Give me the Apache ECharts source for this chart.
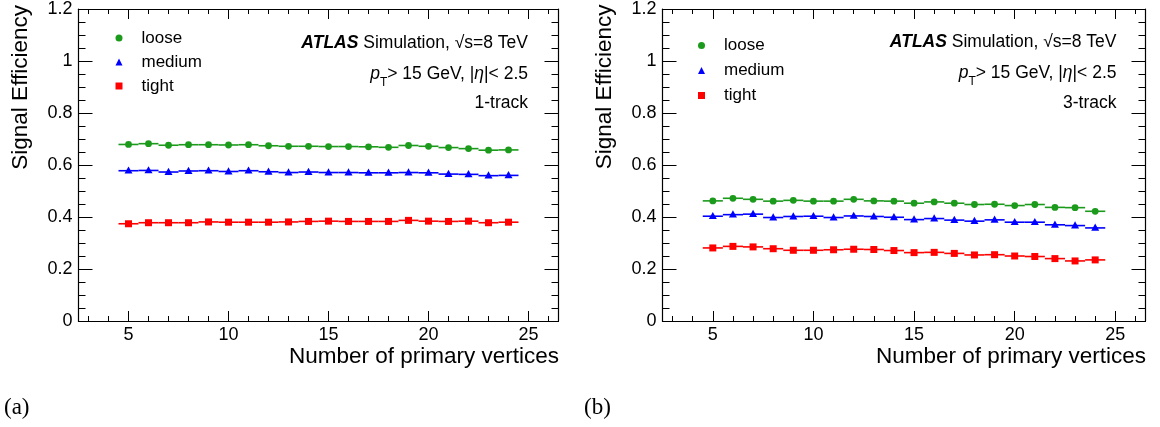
<!DOCTYPE html>
<html>
<head>
<meta charset="utf-8">
<script src="https://cdn.jsdelivr.net/npm/echarts@6/dist/echarts.min.js"></script>
<style>
  html, body { margin: 0; padding: 0; background: #ffffff; }
  #chart { width: 1160px; height: 427px; }
</style>
</head>
<body>
<div id="chart"></div>
<script>
// Number of primary vertices (bin centres)
const nVertices = [5, 6, 7, 8, 9, 10, 11, 12, 13, 14, 15, 16, 17, 18, 19, 20, 21, 22, 23, 24];

// (a) 1-track signal efficiency
const loose1  = [0.679, 0.682, 0.676, 0.678, 0.678, 0.677, 0.678, 0.674, 0.672, 0.672, 0.671, 0.671, 0.670, 0.668, 0.675, 0.672, 0.667, 0.663, 0.657, 0.658];
const medium1 = [0.578, 0.579, 0.573, 0.577, 0.578, 0.575, 0.578, 0.574, 0.571, 0.573, 0.571, 0.571, 0.570, 0.570, 0.571, 0.570, 0.565, 0.564, 0.559, 0.560];
const tight1  = [0.374, 0.378, 0.378, 0.378, 0.381, 0.380, 0.380, 0.380, 0.381, 0.383, 0.384, 0.383, 0.383, 0.383, 0.387, 0.384, 0.383, 0.384, 0.378, 0.380];

// (b) 3-track signal efficiency
const loose3  = [0.462, 0.472, 0.468, 0.461, 0.464, 0.461, 0.461, 0.468, 0.462, 0.461, 0.453, 0.458, 0.453, 0.448, 0.449, 0.444, 0.448, 0.437, 0.436, 0.422];
const medium3 = [0.403, 0.409, 0.411, 0.398, 0.402, 0.403, 0.398, 0.404, 0.402, 0.399, 0.390, 0.394, 0.388, 0.384, 0.389, 0.380, 0.380, 0.370, 0.367, 0.358];
const tight3  = [0.281, 0.287, 0.285, 0.278, 0.272, 0.272, 0.274, 0.276, 0.275, 0.271, 0.263, 0.264, 0.260, 0.254, 0.255, 0.250, 0.248, 0.240, 0.231, 0.235];

// Axis ticks
const xMajorTicks = [5, 10, 15, 20, 25];
const xMinorTicks = [3, 4, 5, 6, 7, 8, 9, 10, 11, 12, 13, 14, 15, 16, 17, 18, 19, 20, 21, 22, 23, 24, 25, 26];

const FONT = '"Liberation Sans", Arial, Helvetica, sans-serif';
const SERIF = '"Liberation Serif", "DejaVu Serif", serif';
const GREEN = '#1c9a1c';
const BLUE = '#0000ff';
const RED = '#ff0000';
const HALF_BIN = 0.5;

const chart = echarts.init(document.getElementById('chart'), null, { renderer: 'canvas' });

// Marker + horizontal bin-width bar for one point
function binRenderer(shape, color) {
  return function (params, api) {
    const x = api.value(0);
    const y = api.value(1);
    const a = api.coord([x - HALF_BIN, y]);
    const b = api.coord([x + HALF_BIN, y]);
    const c = api.coord([x, y]);
    let marker;
    if (shape === 'circle') {
      marker = { type: 'circle', shape: { cx: c[0], cy: c[1], r: 3.4 }, style: { fill: color } };
    } else if (shape === 'triangle') {
      marker = { type: 'polygon', shape: { points: [[c[0], c[1] - 4.3], [c[0] - 4, c[1] + 2.9], [c[0] + 4, c[1] + 2.9]] }, style: { fill: color } };
    } else {
      marker = { type: 'rect', shape: { x: c[0] - 3.5, y: c[1] - 3.5, width: 7, height: 7 }, style: { fill: color } };
    }
    return {
      type: 'group',
      children: [
        { type: 'line', shape: { x1: a[0], y1: a[1], x2: b[0], y2: b[1] }, style: { stroke: color, lineWidth: 1.6 } },
        marker
      ]
    };
  };
}

const panels = [
  { grid: { left: 78.5, top: 6, width: 480, height: 315 },
    data: [loose1, medium1, tight1], tag: '1-track',
    textRight: 528, atlasY: 43, ptY: 74, tagY: 103,
    legendLeft: 115.5, legendTop: 29.5, legendGap: 7,
    panelLabel: '(a)', panelLabelX: 4 },
  { grid: { left: 662.5, top: 5.5, width: 483, height: 315.5 },
    data: [loose3, medium3, tight3], tag: '3-track',
    textRight: 1116.5, atlasY: 42, ptY: 73, tagY: 103,
    legendLeft: 698, legendTop: 37, legendGap: 8,
    panelLabel: '(b)', panelLabelX: 584 }
];

const names = ['loose', 'medium', 'tight'];
const shapes = ['circle', 'triangle', 'rect'];
const colors = [GREEN, BLUE, RED];

const grids = [], xAxes = [], yAxes = [], series = [], legends = [], graphics = [];

panels.forEach((p, gi) => {
  grids.push(p.grid);

  const xBase = {
    gridIndex: gi, type: 'value', min: 2.5, max: 26.5,
    splitLine: { show: false },
    axisLine: { show: true, onZero: false, lineStyle: { color: '#000', width: 1.2 } }
  };
  // bottom: major ticks with labels
  xAxes.push(Object.assign({}, xBase, {
    position: 'bottom',
    axisTick: { show: true, inside: true, length: 10, customValues: xMajorTicks, lineStyle: { color: '#000', width: 1 } },
    axisLabel: { show: true, customValues: xMajorTicks, margin: 5, color: '#000', fontFamily: FONT, fontSize: 18 }
  }));
  // bottom: minor ticks
  xAxes.push(Object.assign({}, xBase, {
    position: 'bottom',
    axisTick: { show: true, inside: true, length: 5, customValues: xMinorTicks, lineStyle: { color: '#000', width: 1 } },
    axisLabel: { show: false }
  }));
  // top: major ticks
  xAxes.push(Object.assign({}, xBase, {
    position: 'top',
    axisTick: { show: true, inside: true, length: 10, customValues: xMajorTicks, lineStyle: { color: '#000', width: 1 } },
    axisLabel: { show: false }
  }));
  // top: minor ticks
  xAxes.push(Object.assign({}, xBase, {
    position: 'top',
    axisTick: { show: true, inside: true, length: 5, customValues: xMinorTicks, lineStyle: { color: '#000', width: 1 } },
    axisLabel: { show: false }
  }));

  const yBase = {
    gridIndex: gi, type: 'value', min: 0, max: 1.2, interval: 0.2,
    splitLine: { show: false },
    axisLine: { show: true, onZero: false, lineStyle: { color: '#000', width: 1.2 } },
    axisTick: { show: true, inside: true, length: 14, lineStyle: { color: '#000', width: 1 } },
    minorTick: { show: true, splitNumber: 4, length: 7, lineStyle: { color: '#000', width: 1 } }
  };
  yAxes.push(Object.assign({}, yBase, {
    position: 'left',
    axisLabel: { show: true, margin: 6, color: '#000', fontFamily: FONT, fontSize: 18 }
  }));
  yAxes.push(Object.assign({}, yBase, {
    position: 'right',
    axisLabel: { show: false }
  }));

  p.data.forEach((vals, si) => {
    series.push({
      type: 'custom',
      name: names[si],
      xAxisIndex: gi * 4,
      yAxisIndex: gi * 2,
      itemStyle: { color: colors[si] },
      renderItem: binRenderer(shapes[si], colors[si]),
      data: nVertices.map((n, i) => [n, vals[i]]),
      clip: false,
      silent: true
    });
  });

  legends.push({
    orient: 'vertical', left: p.legendLeft, top: p.legendTop, padding: 0,
    itemWidth: 7, itemHeight: 7, itemGap: p.legendGap,
    selectedMode: false,
    textStyle: { color: '#000', fontFamily: FONT, fontSize: 17, padding: [0, 0, 0, 14] },
    data: names.map((n, i) => ({ name: n, icon: shapes[i] }))
  });

  const g = p.grid;
  // y-axis title
  graphics.push({
    type: 'text', x: g.left - 58, y: g.top - 1, rotation: Math.PI / 2,
    style: { text: 'Signal Efficiency', fontFamily: FONT, fontSize: 22.5, fill: '#000', align: 'right', verticalAlign: 'middle' }
  });
  // x-axis title
  graphics.push({
    type: 'text', x: g.left + g.width + 0.5, y: 357,
    style: { text: 'Number of primary vertices', fontFamily: FONT, fontSize: 22.5, fill: '#000', align: 'right', verticalAlign: 'middle' }
  });
  // ATLAS label
  graphics.push({
    type: 'text', x: p.textRight, y: p.atlasY,
    style: {
      text: '{b|ATLAS} Simulation, √s=8 TeV',
      fontFamily: FONT, fontSize: 17.5, fill: '#000', align: 'right', verticalAlign: 'middle',
      rich: { b: { fontFamily: FONT, fontSize: 17.5, fontWeight: 'bold', fontStyle: 'italic', fill: '#000' } }
    }
  });
  // kinematic selection
  graphics.push({
    type: 'text', x: p.textRight, y: p.ptY,
    style: {
      text: '{i|p}{sub|T}> 15 GeV, |{i|η}|< 2.5',
      fontFamily: FONT, fontSize: 17.5, fill: '#000', align: 'right', verticalAlign: 'middle',
      rich: {
        i: { fontFamily: FONT, fontSize: 17.5, fontStyle: 'italic', fill: '#000' },
        sub: { fontFamily: FONT, fontSize: 12, fill: '#000', padding: [18, 0, 0, 0] }
      }
    }
  });
  // track multiplicity
  graphics.push({
    type: 'text', x: p.textRight, y: p.tagY,
    style: { text: p.tag, fontFamily: FONT, fontSize: 17.5, fill: '#000', align: 'right', verticalAlign: 'middle' }
  });
  // sub-figure label
  graphics.push({
    type: 'text', x: p.panelLabelX, y: 408,
    style: { text: p.panelLabel, fontFamily: SERIF, fontSize: 23, fill: '#000', align: 'left', verticalAlign: 'middle' }
  });
});

chart.setOption({
  animation: false,
  backgroundColor: '#ffffff',
  grid: grids,
  xAxis: xAxes,
  yAxis: yAxes,
  legend: legends,
  series: series,
  graphic: graphics
});
</script>
</body>
</html>
